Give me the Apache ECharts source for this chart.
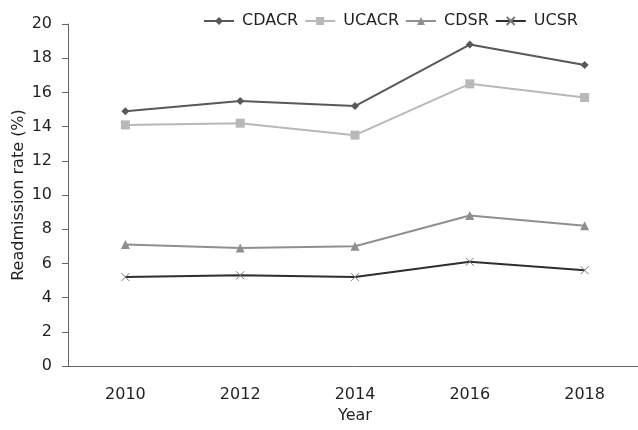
<!DOCTYPE html>
<html lang="en">
<head>
    <meta charset="UTF-8">
    <title>Readmission rate</title>
    <script src="https://cdn.jsdelivr.net/npm/echarts@6/dist/echarts.min.js"></script>
    <style>
        html, body { margin: 0; padding: 0; background: #fff; }
    </style>
</head>
<body>
<div id="main" style="width: 638px;height:430px;"></div>
<script>
    var years = ['2010', '2012', '2014', '2016', '2018'];
    var cdacr = [14.9, 15.5, 15.2, 18.8, 17.6];
    var ucacr = [14.1, 14.2, 13.5, 16.5, 15.7];
    var cdsr = [7.1, 6.9, 7.0, 8.8, 8.2];
    var ucsr = [5.2, 5.3, 5.2, 6.1, 5.6];

    var font = 'DejaVu Sans';
    var txt = '#231f20';
    var axisCol = '#6b6264';

    var myChart = echarts.init(document.getElementById('main'));

    function line(name, data, color, symbol, size, extra) {
        var s = {
            name: name,
            type: 'line',
            data: data,
            symbol: symbol,
            symbolSize: size,
            color: color,
            lineStyle: { color: color, width: 2 },
            itemStyle: { color: color },
            animation: false
        };
        if (extra) s.itemStyle = extra;
        return s;
    }

    myChart.setOption({
        textStyle: { fontFamily: font },
        grid: { left: 68, right: -4, top: 24, bottom: 64, outerBoundsMode: 'none', containLabel: false },
        legend: {
            top: 8,
            left: 198,
            itemWidth: 30,
            itemHeight: 10,
            itemGap: 6,
            textStyle: { fontFamily: font, fontSize: 16, color: txt, padding: [0, 0, 0, 3] },
            data: ['CDACR', 'UCACR', 'CDSR', 'UCSR']
        },
        xAxis: {
            type: 'category',
            data: years,
            name: 'Year',
            nameLocation: 'middle',
            nameGap: 41,
            nameTextStyle: { fontFamily: font, fontSize: 16, color: txt },
            axisLine: { lineStyle: { color: axisCol, width: 1 } },
            axisTick: { alignWithLabel: true, length: 7, lineStyle: { color: axisCol } },
            axisLabel: { fontFamily: font, fontSize: 16, color: txt, margin: 21 }
        },
        yAxis: {
            type: 'value',
            min: 0,
            max: 20,
            interval: 2,
            name: 'Readmission rate (%)',
            nameLocation: 'middle',
            nameGap: 41,
            nameMoveOverlap: false,
            nameTextStyle: { fontFamily: font, fontSize: 16, color: txt },
            splitLine: { show: false },
            axisLine: { show: true, lineStyle: { color: axisCol, width: 1 } },
            axisTick: { show: true, length: 6, lineStyle: { color: axisCol } },
            axisLabel: { fontFamily: font, fontSize: 16, color: txt, margin: 16 }
        },
        series: [
            line('CDACR', cdacr, '#585858', 'diamond', 8),
            line('UCACR', ucacr, '#b8b8b8', 'rect', 9),
            line('CDSR', cdsr, '#8f8f8f', 'triangle', 9),
            line('UCSR', ucsr, '#2e2e2e', 'path://M0,0L10,10M10,0L0,10', 8,
                { color: 'none', borderColor: '#7a7a7a', borderWidth: 1 })
        ]
    });
</script>
</body>
</html>
